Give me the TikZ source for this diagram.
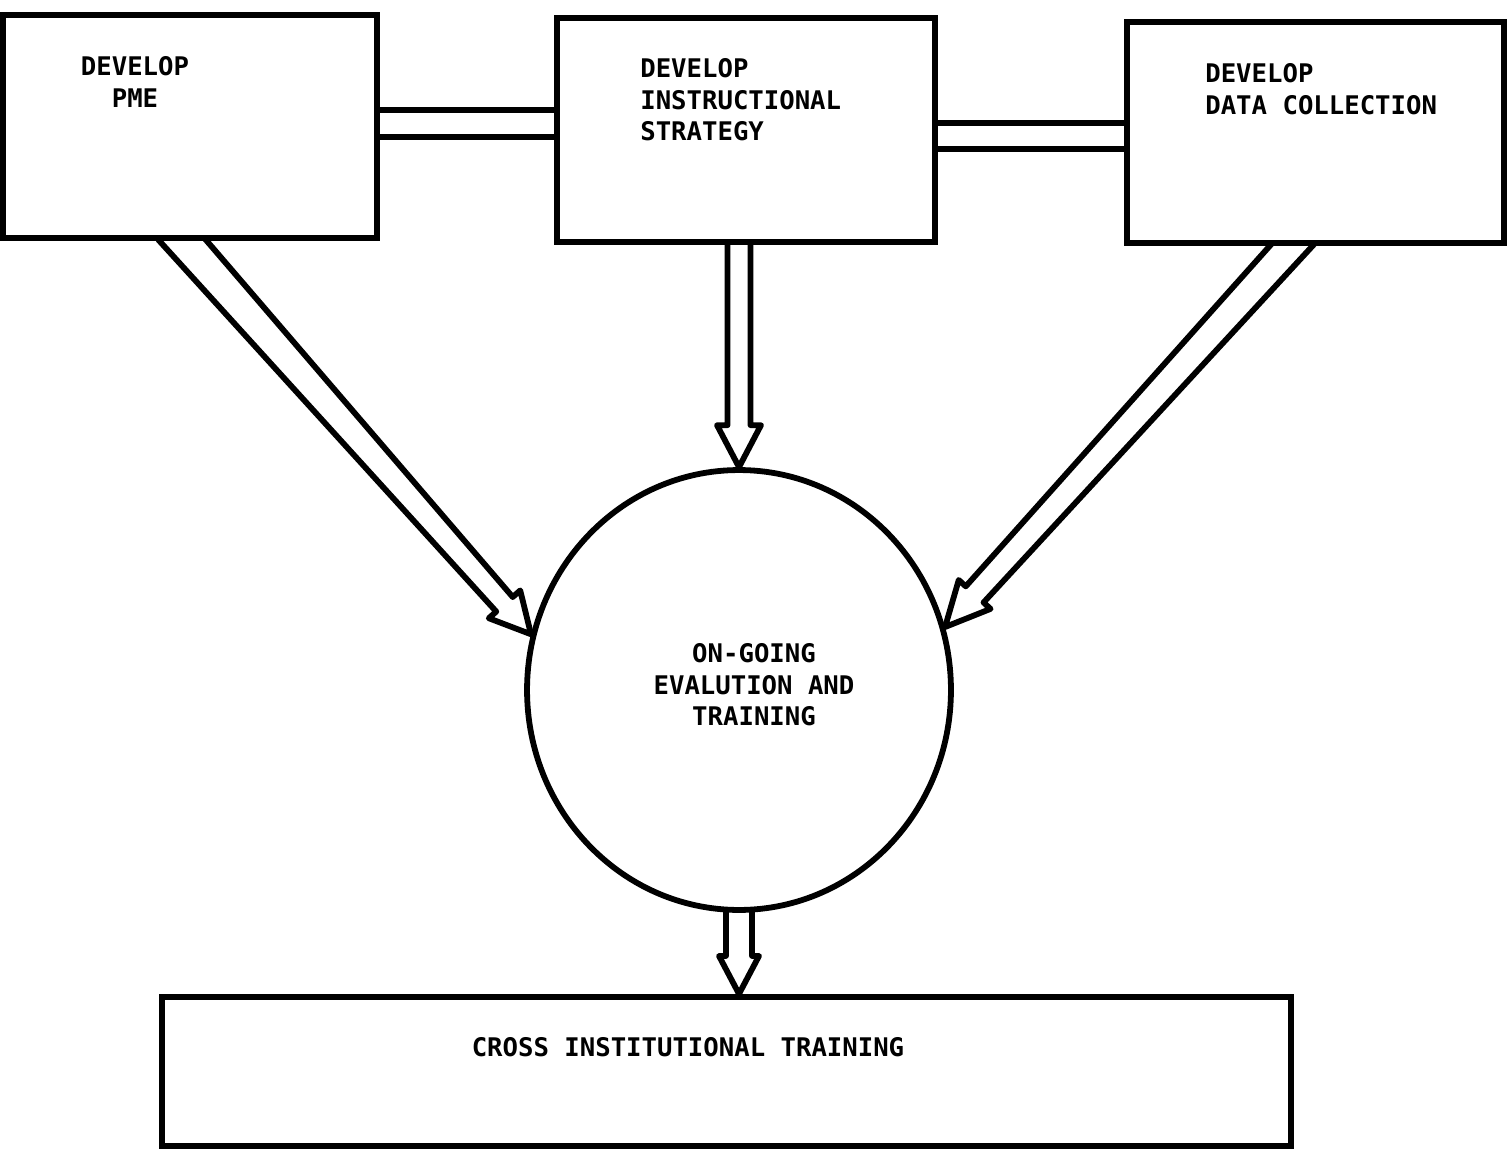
\documentclass[tikz,border=0pt]{standalone}
\usepackage{fontspec}
\newfontfamily\lbl{DejaVu Sans Mono}
\usetikzlibrary{calc,shapes.geometric}
\pgfdeclarelayer{bg}
\pgfsetlayers{bg,main}
% #1 start, #2 tip, #3 start half-width, #4 shaft-end half-width, #5 head half-width, #6 head length
\newcommand\hollowarrow[6]{%
  \path ($(#2)!#6!(#1)$) coordinate (hm);
  \draw[harrow] ($(#1)!#3!90:(#2)$) -- ($(hm)!#4!90:(#2)$) -- ($(hm)!#5!90:(#2)$) -- (#2)
    -- ($(hm)!#5!-90:(#2)$) -- ($(hm)!#4!-90:(#2)$) -- ($(#1)!#3!-90:(#2)$);
}
\tikzset{
  box/.style={draw, line width=3.5pt, fill=white, inner sep=0pt, rectangle},
  hub/.style={draw, line width=3.3pt, fill=white, inner sep=0pt, ellipse},
  harrow/.style={draw, line width=3.3pt, line join=round, line cap=round},
  link/.style={line width=3.6pt},
  lab/.style={inner sep=0pt, font=\lbl\bfseries\fontsize{14.6}{18}\selectfont}
}
\begin{document}
\begin{tikzpicture}[x=0.02cm, y=-0.02cm]
\useasboundingbox (0,0) rectangle (1508,1156);
% boxes
\node[box, minimum width=7.48cm, minimum height=4.46cm] (b1) at (190,126.5) {};
\node[box, minimum width=7.56cm, minimum height=4.48cm] (b2) at (746,130) {};
\node[box, minimum width=7.54cm, minimum height=4.42cm] (b3) at (1315.5,132.5) {};
\node[box, minimum width=22.58cm, minimum height=2.98cm] (bot) at (726.5,1071.5) {};
\node[hub, minimum width=8.48cm, minimum height=8.8cm] (c) at (739,690) {};
% reference heights
\coordinate (y110) at (0,110);
\coordinate (y137) at (0,137);
\coordinate (y123) at (0,123);
\coordinate (y149) at (0,149);
\coordinate (s1) at ($(b1.south)+(-18,-13)$);
\coordinate (s2) at ($(b2.south)+(-7,-12)$);
\coordinate (s3) at ($(b3.south)+(-11,-15)$);
\coordinate (s4) at ($(c.south)+(0,-15)$);
\coordinate (t4) at (c.south |- bot.north);
\begin{pgfonlayer}{bg}
  \draw[link] (b1.east |- y110) -- (b2.west |- y110);
  \draw[link] (b1.east |- y137) -- (b2.west |- y137);
  \draw[link] (b2.east |- y123) -- (b3.west |- y123);
  \draw[link] (b2.east |- y149) -- (b3.west |- y149);
  \hollowarrow{s1}{c.165}{0.36cm}{0.22cm}{0.42cm}{0.8cm}
  \hollowarrow{s2}{c.north}{0.23cm}{0.23cm}{0.44cm}{0.84cm}
  \hollowarrow{s3}{c.17}{0.32cm}{0.24cm}{0.43cm}{0.88cm}
  \hollowarrow{s4}{t4}{0.26cm}{0.26cm}{0.40cm}{0.76cm}
\end{pgfonlayer}
% labels
\node[lab, align=center] (l1) at (135,82) {DEVELOP\\PME};
\node[lab, align=left, anchor=west] (l2) at (640,100) {DEVELOP\\INSTRUCTIONAL\\STRATEGY};
\node[lab, align=left, anchor=west] (l3) at (1205,89) {DEVELOP\\DATA COLLECTION};
\node[lab, align=center] (l4) at (754,685) {ON-GOING\\EVALUTION AND\\TRAINING};
\node[lab] (l5) at (688,1047) {CROSS INSTITUTIONAL TRAINING};
\end{tikzpicture}
\end{document}
